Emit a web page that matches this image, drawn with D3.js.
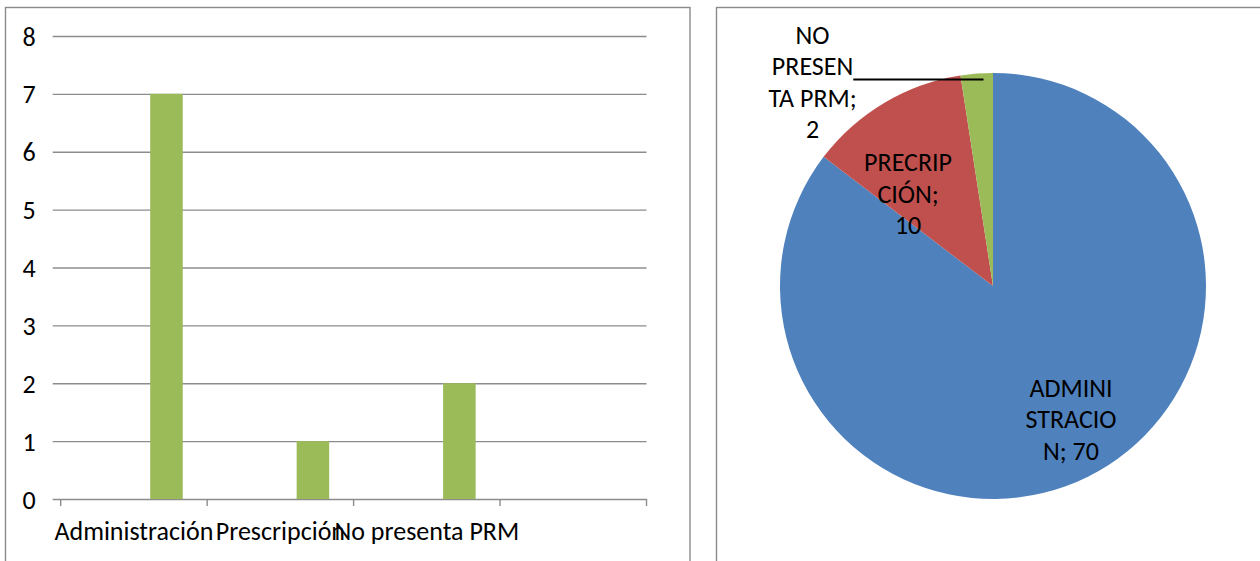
<!DOCTYPE html>
<html>
<head>
<meta charset="utf-8">
<script src="https://cdn.jsdelivr.net/npm/d3@7"></script>
<style>
  html, body { margin: 0; padding: 0; background: #ffffff; }
  svg { display: block; }
</style>
</head>
<body>
<svg id="chart" width="1260" height="561"></svg>
<script>
// ---- data ----
const barCategories = ["Administración", "Prescripción", "No presenta PRM", ""];
const barValues = [7, 1, 2];
const yTicks = [0, 1, 2, 3, 4, 5, 6, 7, 8];

const pieCategories = ["ADMINISTRACION", "PRECRIPCIÓN", "NO PRESENTA PRM"];
const pieValues = [70, 10, 2];
const pieColors = ["#4F81BD", "#C0504D", "#9BBB59"];

// ---- styling / layout ----
const fontStack = "Carlito, Calibri, Lato, 'Open Sans', sans-serif";
const fontSize = 26;
const frameColor = "#8a8a8a";
const gridColor = "#8c8c8c";
const barColor = "#9BBB59";

const svg = d3.select("#chart");
svg.append("rect").attr("width", 1260).attr("height", 561).attr("fill", "#ffffff");

// panel frames
svg.append("rect")
  .attr("x", 5.5).attr("y", 7.5).attr("width", 684.5).attr("height", 620)
  .attr("fill", "none").attr("stroke", frameColor).attr("stroke-width", 1.4);
svg.append("rect")
  .attr("x", 716.5).attr("y", 7.5).attr("width", 620).attr("height", 620)
  .attr("fill", "none").attr("stroke", frameColor).attr("stroke-width", 1.4);

// ---- column chart ----
const plot = { left: 52.7, right: 646.5, top: 36, bottom: 499 };
const y = d3.scaleLinear().domain([0, 8]).range([plot.bottom, plot.top]);
const x = d3.scaleBand().domain(barCategories).range([60.7, plot.right]);
// three series slots per category, only the third one carries values
const slot = d3.scaleBand().domain(d3.range(3)).range([0, x.bandwidth()]).paddingOuter(0.75);
const barSlot = 2;

const gy = svg.append("g")
  .attr("transform", `translate(${plot.left},0)`)
  .call(d3.axisLeft(y)
    .tickValues(yTicks)
    .tickSize(-(plot.right - plot.left))
    .tickPadding(17)
    .tickFormat(d3.format("d")));
gy.attr("font-family", fontStack).attr("font-size", fontSize);
gy.select(".domain").remove();
gy.selectAll(".tick line").attr("stroke", gridColor).attr("stroke-width", 1.4);
gy.selectAll(".tick text").attr("fill", "#000").attr("dy", null).attr("dominant-baseline", "central");

// category tick marks at band edges
const edges = barCategories.map(d => x(d)).concat([x.range()[1]]);
svg.append("g").selectAll("line").data(edges).join("line")
  .attr("x1", d => d).attr("x2", d => d)
  .attr("y1", plot.bottom).attr("y2", plot.bottom + 7)
  .attr("stroke", gridColor).attr("stroke-width", 1.4);

// bars
svg.append("g").selectAll("rect").data(barValues).join("rect")
  .attr("x", (d, i) => x(barCategories[i]) + slot(barSlot))
  .attr("width", slot.bandwidth())
  .attr("y", d => y(d))
  .attr("height", d => y(0) - y(d))
  .attr("fill", barColor);

// category labels
svg.append("g").selectAll("text").data(barCategories.filter(d => d !== "")).join("text")
  .attr("x", d => x(d) + x.bandwidth() / 2)
  .attr("y", 540)
  .attr("text-anchor", "middle")
  .attr("font-family", fontStack).attr("font-size", fontSize).attr("fill", "#000")
  .text(d => d);

// ---- pie chart ----
const cx = 993, cy = 286, R = 213;
const arcs = d3.pie().sort(null).value(d => d)(pieValues);
const arc = d3.arc().innerRadius(0).outerRadius(R);

const gp = svg.append("g").attr("transform", `translate(${cx},${cy})`);
gp.selectAll("path").data(arcs).join("path")
  .attr("d", arc)
  .attr("fill", (d, i) => pieColors[i]);

// data label placement: polar angle (deg, clockwise from top), radius fraction, wrap points
const labelLayout = [
  { angle: 149.8, radius: 0.728, breaks: [6, 13] },
  { angle: 317.2, radius: 0.587, breaks: [7, 13] },
  { angle: 318.4, radius: 1.276, breaks: [3, 9, 17] }
];
const lineGap = 31.5;
const capHalf = 8.4;

function wrapAt(str, breaks) {
  const pts = [0].concat(breaks, [str.length]);
  const out = [];
  for (let k = 0; k < pts.length - 1; k++) out.push(str.slice(pts[k], pts[k + 1]).trim());
  return out;
}

const polar = (deg, r) => {
  const a = deg * Math.PI / 180;
  return [Math.sin(a) * r, -Math.cos(a) * r];
};

const labelNodes = [];
arcs.forEach((a, i) => {
  const lay = labelLayout[i];
  const lines = wrapAt(`${pieCategories[i]}; ${pieValues[i]}`, lay.breaks);
  const [lx, ly] = polar(lay.angle, lay.radius * R);
  const firstBase = ly - (lines.length - 1) * lineGap / 2 + capHalf;
  const t = gp.append("text")
    .attr("text-anchor", "middle")
    .attr("font-family", fontStack).attr("font-size", fontSize).attr("fill", "#000");
  lines.forEach((ln, k) => {
    t.append("tspan").attr("x", lx).attr("y", firstBase + k * lineGap).text(ln);
  });
  labelNodes.push({ text: t, x: lx, lines });
});

// leader line for the small slice
(function () {
  const i = 2;
  const a = arcs[i];
  const endDeg = (a.startAngle + 0.7 * (a.endAngle - a.startAngle)) * 180 / Math.PI;
  const [ex, ey] = polar(endDeg, 0.97 * R);
  const lab = labelNodes[i];
  const w = lab.text.selectAll("tspan").nodes()[1].getComputedTextLength();
  gp.append("line")
    .attr("x1", lab.x + w / 2).attr("y1", ey)
    .attr("x2", ex).attr("y2", ey)
    .attr("stroke", "#000").attr("stroke-width", 2);
})();
</script>
</body>
</html>
